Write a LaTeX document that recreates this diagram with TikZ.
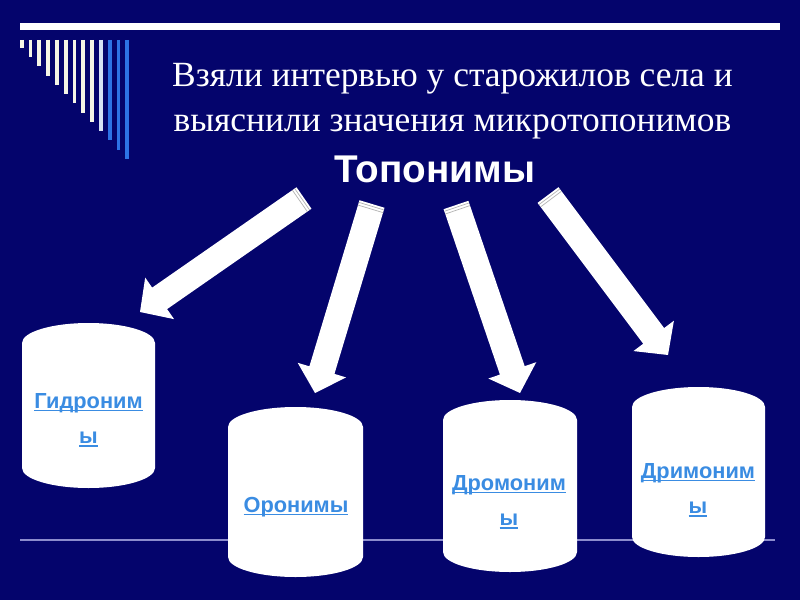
\documentclass[tikz,border=0pt]{standalone}
\usepackage{fontspec}
\setmainfont{Liberation Serif}
\setsansfont{Liberation Sans}
\usetikzlibrary{calc}

\definecolor{slidebg}{RGB}{4,4,108}
\definecolor{linkblue}{RGB}{58,140,226}
\definecolor{stripecream}{RGB}{245,245,230}
\definecolor{stripepale}{RGB}{215,225,245}
\definecolor{stripeblue}{RGB}{45,115,230}
\definecolor{floorline}{RGB}{140,140,205}

% underlined link word
\newcommand{\linkword}[1]{\setbox0\hbox{#1}\rlap{\rule[-2.2pt]{\wd0}{1.1pt}}\box0}

% x1, x2, top, bottom
\newcommand{\cylinder}[4]{%
  \fill[white] (#1,#3-20) -- (#1,#4+20)
    arc[start angle=180,end angle=360,x radius={(#2-#1)/2},y radius=20]
    -- (#2,#3-20)
    arc[start angle=0,end angle=180,x radius={(#2-#1)/2},y radius=20] -- cycle;}

% block arrow from tail #1 to tip #2
\newcommand{\blockarrow}[2]{%
  \coordinate (ab) at ($(#2)!17pt!(#1)$);
  \fill[white] ($(#1)!9.3pt!90:(#2)$) -- ($(ab)!9.3pt!90:(#2)$) -- ($(ab)!18pt!90:(#2)$)
    -- (#2) -- ($(ab)!18pt!-90:(#2)$) -- ($(ab)!9.3pt!-90:(#2)$) -- ($(#1)!9.3pt!-90:(#2)$) -- cycle;
  \foreach \d in {1.6pt,3.6pt} {
    \draw[tailline] ($(#1)!\d!(#2)!9.3pt!90:(#2)$) -- ($(#1)!\d!(#2)!9.3pt!-90:(#2)$);
  }}

\tikzset{
  stripe/.style={line width=2.8pt},
  tailline/.style={gray!60, line width=0.5pt},
  linktext/.style={font=\sffamily\bfseries\fontsize{15.5}{25}\selectfont, text=linkblue, align=center},
  titletext/.style={font=\fontsize{25.2}{32}\selectfont, text=white, anchor=base}
}

\begin{document}
\begin{tikzpicture}[x=0.025cm,y=0.025cm]
	\fill[slidebg] (0,0) rectangle (800,600);
	\useasboundingbox (0,0) rectangle (800,600);

	% top bar and stripes
	\draw[white, line width=4.3pt] (20,573.5) -- (780,573.5);
	\foreach \i in {0,...,8} {
		\draw[stripe, stripecream] ({21.7+8.8*\i},560) -- ({21.7+8.8*\i},{552-9.25*\i});
	}
	\draw[stripe, stripepale] ({21.7+8.8*9},560) -- ({21.7+8.8*9},{552-9.25*9});
	\foreach \i in {10,11,12} {
		\draw[stripe, stripeblue] ({21.7+8.8*\i},560) -- ({21.7+8.8*\i},{552-9.25*\i});
	}

	% title
	\node[titletext] (title1) at (452.5,513) {Взяли интервью у старожилов села и};
	\node[titletext] (title2) at (452.5,468) {выяснили значения микротопонимов};
	\node[font=\sffamily\bfseries\fontsize{27.5}{30}\selectfont, text=white, anchor=base] (topo) at (435,417) {Топонимы};

	% floor line
	\draw[floorline, line width=1.5pt] (20,60) -- (775,60);

	% cylinders
	\cylinder{22}{155}{277}{112}
	\cylinder{228}{363}{193}{23}
	\cylinder{443}{577}{200}{28}
	\cylinder{632}{765}{213}{43}

	\node[linktext] (gidro) at (88.5,180) {\linkword{Гидроним}\\\linkword{ы}};
	\node[linktext] (oro) at (296,93) {\linkword{Оронимы}};
	\node[linktext] (dromo) at (509,98) {\linkword{Дромоним}\\\linkword{ы}};
	\node[linktext] (drimo) at (698,110) {\linkword{Дримоним}\\\linkword{ы}};

	% arrows
	\coordinate (t1) at (304,402);
	\coordinate (h1) at (140,288);
	\coordinate (t2) at (372,396);
	\coordinate (h2) at (315,207);
	\coordinate (t3) at (456,395);
	\coordinate (h3) at (520,207);
	\coordinate (t4) at (548,405);
	\coordinate (h4) at (668,245);
	\blockarrow{t1}{h1}
	\blockarrow{t2}{h2}
	\blockarrow{t3}{h3}
	\blockarrow{t4}{h4}
\end{tikzpicture}
\end{document}
